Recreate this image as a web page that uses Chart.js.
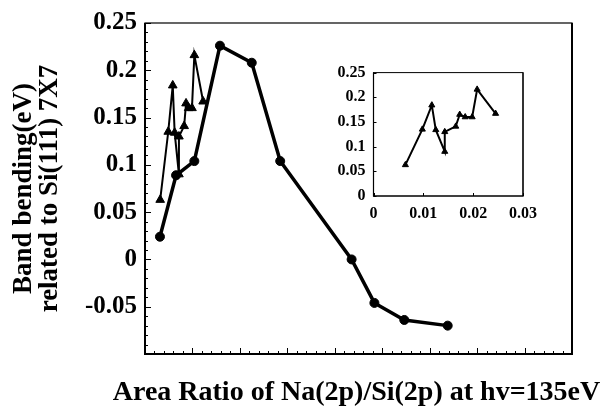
<!DOCTYPE html>
<html><head><meta charset="utf-8">
<script src="https://cdn.jsdelivr.net/npm/chart.js@4/dist/chart.umd.min.js"></script>
<style>
html,body{margin:0;padding:0;background:#fff;}
#wrap{position:relative;width:601px;height:409px;overflow:hidden;}
#main{position:absolute;left:0;top:0;}
#inset{position:absolute;left:325px;top:55px;}
</style></head><body>
<div id="wrap"><canvas id="main" width="601" height="409"></canvas><canvas id="inset" width="220" height="170"></canvas></div>
<script>
// ---- data ----
const circleX = [0.0063, 0.0131, 0.0208, 0.0316, 0.0450, 0.0570, 0.0871, 0.0967, 0.1093, 0.1276];
const circleY = [0.024, 0.089, 0.104, 0.226, 0.208, 0.104, 0.000, -0.046, -0.064, -0.070];
const triX = [0.0064, 0.0098, 0.0117, 0.0125, 0.0143, 0.0143, 0.0165, 0.0173, 0.0184, 0.0198, 0.0208, 0.0245];
const triY = [0.063, 0.135, 0.184, 0.134, 0.090, 0.130, 0.141, 0.165, 0.160, 0.160, 0.216, 0.167];
const xTitle = 'Area Ratio of Na(2p)/Si(2p) at hv=135eV';
const yTitle = ['Band bending(eV)', 'related to Si(111) 7X7'];
const mainYRange = [-0.1, 0.25];
const mainXRange = [0, 0.18];
const insetXRange = [0, 0.03];
const insetYRange = [0, 0.25];

const FONT = "'Liberation Serif', 'Times New Roman', serif";
Chart.defaults.font.family = FONT;
Chart.defaults.color = '#000';

const pts = (xs, ys) => xs.map((x, i) => ({x, y: ys[i]}));
const fmt = v => String(+v.toFixed(3));

function frameTicksPlugin(cfg) {
  return {
    id: 'frameTicks',
    afterDraw(chart) {
      const {ctx, chartArea: a, scales} = chart;
      ctx.save();
      ctx.strokeStyle = '#000';
      ctx.lineWidth = 1;
      const ys = scales.y, xs = scales.x;
      for (let i = 0; i <= cfg.yN; i++) {
        const v = ys.min + i * cfg.yStep;
        const p = Math.round(ys.getPixelForValue(v)) + 0.5;
        const len = (i % cfg.yMajorEvery === 0) ? cfg.major : cfg.minor;
        ctx.beginPath(); ctx.moveTo(a.left, p); ctx.lineTo(a.left + len, p); ctx.stroke();
      }
      for (let i = 0; i <= cfg.xN; i++) {
        const v = xs.min + i * cfg.xStep;
        const p = Math.round(xs.getPixelForValue(v)) + 0.5;
        const len = (i % cfg.xMajorEvery === 0) ? cfg.major : cfg.minor;
        ctx.beginPath(); ctx.moveTo(p, a.bottom); ctx.lineTo(p, a.bottom - len); ctx.stroke();
      }
      ctx.lineWidth = cfg.thin;
      ctx.strokeRect(a.left, a.top, a.right - a.left, a.bottom - a.top);
      ctx.lineWidth = cfg.thick;
      ctx.beginPath();
      ctx.moveTo(a.left, a.top); ctx.lineTo(a.left, a.bottom); ctx.lineTo(a.right, a.bottom); ctx.lineTo(a.right, a.top);
      ctx.stroke();
      if (cfg.xTitle) {
        ctx.fillStyle = '#000';
        ctx.font = 'bold 28px ' + FONT;
        ctx.textAlign = 'center';
        ctx.textBaseline = 'middle';
        const xa = scales.x;
        ctx.fillText(cfg.xTitle, (xa.left + xa.right) / 2 - 2, xa.bottom - 16);
      }
      ctx.restore();
    }
  };
}

new Chart(document.getElementById('main'), {
  type: 'scatter',
  data: {
    datasets: [
      {
        data: pts(triX, triY), showLine: true,
        borderColor: '#000', backgroundColor: '#000', borderWidth: 2,
        pointStyle: 'triangle', pointRadius: 5, pointBorderWidth: 1
      },
      {
        data: pts(circleX, circleY), showLine: true,
        borderColor: '#000', backgroundColor: '#000', borderWidth: 3.5,
        pointStyle: 'circle', pointRadius: 4.5, pointBorderWidth: 1
      }
    ]
  },
  options: {
    responsive: false, devicePixelRatio: 1, animation: false,
    layout: {padding: {left: 0, top: 21, right: 29, bottom: 0}},
    plugins: {legend: {display: false}, tooltip: {enabled: false}},
    scales: {
      x: {
        type: 'linear', min: mainXRange[0], max: mainXRange[1],
        grid: {display: false}, border: {display: false},
        ticks: {display: false},
        title: {display: false},
        afterFit(s) { s.height = 55; }
      },
      y: {
        type: 'linear', min: mainYRange[0], max: mainYRange[1],
        grid: {display: false, drawTicks: false}, border: {display: false},
        ticks: {stepSize: 0.05, autoSkip: false, padding: 8, font: {size: 25, weight: 'bold'},
          callback: v => Math.abs(v - mainYRange[0]) < 1e-9 ? '' : fmt(v)},
        title: {display: true, text: yTitle, font: {size: 27, weight: 'bold', lineHeight: 0.963}, padding: {top: 11, bottom: 0}},
        afterFit(s) { s.width = 145; }
      }
    }
  },
  plugins: [frameTicksPlugin({yN: 35, yStep: 0.01, yMajorEvery: 5, xN: 45, xStep: 0.004, xMajorEvery: 5, major: 6, minor: 3, thin: 1.2, thick: 2, xTitle: xTitle})]
});

new Chart(document.getElementById('inset'), {
  type: 'scatter',
  data: {
    datasets: [{
      data: pts(triX, triY), showLine: true,
      borderColor: '#000', backgroundColor: '#000', borderWidth: 2,
      pointStyle: 'triangle', pointRadius: 3.5, pointBorderWidth: 1
    }]
  },
  options: {
    responsive: false, devicePixelRatio: 1, animation: false,
    layout: {padding: {left: 0, top: 9, right: 17.5, bottom: 0}},
    plugins: {legend: {display: false}, tooltip: {enabled: false}},
    scales: {
      x: {
        type: 'linear', min: insetXRange[0], max: insetXRange[1],
        grid: {display: false, drawTicks: false}, border: {display: false},
        ticks: {stepSize: 0.01, autoSkip: false, padding: 8, maxRotation: 0, font: {size: 16, weight: 'bold'}, callback: v => fmt(v)},
        afterFit(s) { s.height = 29; }
      },
      y: {
        type: 'linear', min: insetYRange[0], max: insetYRange[1],
        grid: {display: false, drawTicks: false}, border: {display: false},
        ticks: {stepSize: 0.05, autoSkip: false, padding: 8, font: {size: 16, weight: 'bold'}, callback: v => fmt(v)},
        afterFit(s) { s.width = 48.5; }
      }
    }
  },
  plugins: [frameTicksPlugin({yN: 5, yStep: 0.05, yMajorEvery: 1, xN: 3, xStep: 0.01, xMajorEvery: 1, major: 3, minor: 2, thin: 1, thick: 1.2})]
});
</script>
</body></html>
